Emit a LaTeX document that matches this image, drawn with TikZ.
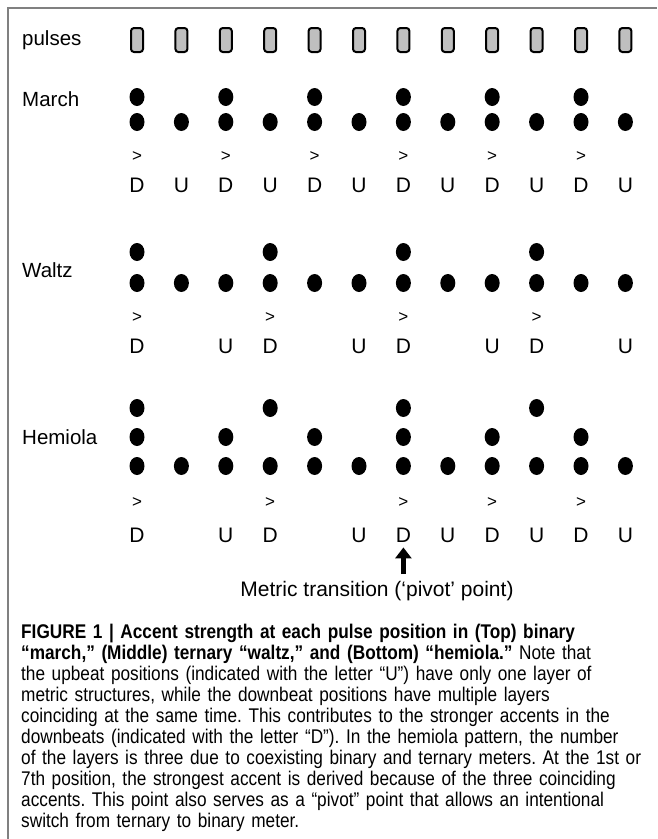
\documentclass[tikz,border=0pt]{standalone}
\usepackage{fontspec}
\setmainfont{Liberation Sans}
\newfontfamily\capfont[FakeStretch=0.87]{Liberation Sans}
\usetikzlibrary{arrows.meta,positioning,shapes.geometric}
\tikzset{
  pulsebox/.style={draw=black, line width=2pt, fill=black!25, rounded corners=3pt,
    minimum width=12pt, minimum height=24pt, inner sep=0pt},
  beatdot/.style={ellipse, fill=black, minimum width=15pt, minimum height=18pt, inner sep=0pt},
  rowlabel/.style={anchor=west, inner sep=0pt, font=\fontsize{20.5}{24}\selectfont},
  %% accent sign and beat letters
  accmark/.style={inner sep=0pt, font=\fontsize{17}{20}\selectfont},
  beatletter/.style={inner sep=0pt, font=\fontsize{21}{24}\selectfont},
  pivotarrow/.style={line width=5pt, -{Triangle[width=16pt,length=11pt]}},
  captext/.style={anchor=north west, inner sep=0pt, align=left, text width=634pt,
    font=\capfont\fontsize{19.8}{21}\selectfont\frenchspacing},
}
\newcommand{\colx}[1]{137+44.4*(#1-1)}

\begin{document}
\begin{tikzpicture}[x=1pt, y=-1pt]
\useasboundingbox (0,0) rectangle (657,839);
\draw[black!50, line width=1.2pt] (8,839) -- (8,8) -- (657,8);

%% pulses
\node[rowlabel] (lPulse) at (22,40) {pulses};
\foreach \i in {1,...,12}
  \node[pulsebox] (p\i) at ({\colx{\i}},40) {};

%% March
\node[rowlabel] (lMarch) at (22,99) {March};
\foreach \i in {1,3,...,11}
  \node[beatdot] (mA\i) at ({\colx{\i}},97) {};
\foreach \i in {1,...,12}
  \node[beatdot] (mB\i) at ({\colx{\i}},122) {};
\foreach \i in {1,3,...,11}
  \node[accmark] (mAcc\i) at ({\colx{\i}},157) {>};
\foreach \i/\l in {1/D,2/U,3/D,4/U,5/D,6/U,7/D,8/U,9/D,10/U,11/D,12/U}
  \node[beatletter] (mL\i) at ({\colx{\i}},185) {\l};

%% Waltz
\node[rowlabel] (lWaltz) at (22,270) {Waltz};
\foreach \i in {1,4,7,10}
  \node[beatdot] (wA\i) at ({\colx{\i}},252) {};
\foreach \i in {1,...,12}
  \node[beatdot] (wB\i) at ({\colx{\i}},283) {};
\foreach \i in {1,4,7,10}
  \node[accmark] (wAcc\i) at ({\colx{\i}},318) {>};
\foreach \i/\l in {1/D,3/U,4/D,6/U,7/D,9/U,10/D,12/U}
  \node[beatletter] (wL\i) at ({\colx{\i}},346) {\l};

%% Hemiola
\node[rowlabel] (lHemiola) at (22,437) {Hemiola};
\foreach \i in {1,4,7,10}
  \node[beatdot] (hA\i) at ({\colx{\i}},408) {};
\foreach \i in {1,3,...,11}
  \node[beatdot] (hB\i) at ({\colx{\i}},437) {};
\foreach \i in {1,...,12}
  \node[beatdot] (hC\i) at ({\colx{\i}},466) {};
\foreach \i in {1,4,7,9,11}
  \node[accmark] (hAcc\i) at ({\colx{\i}},503) {>};
\foreach \i/\l in {1/D,3/U,4/D,6/U,7/D,8/U,9/D,10/U,11/D,12/U}
  \node[beatletter] (hL\i) at ({\colx{\i}},535) {\l};

%% pivot point
\node[beatletter] (pivot) at (377,591) {Metric transition (‘pivot’ point)};
\coordinate (pvFoot) at ({\colx{7}},574);
\draw[pivotarrow] (pvFoot) -- ([yshift=-5pt]hL7.south);

\node[captext] (caption) at (21,624) {%
{\bfseries FIGURE 1 | Accent strength at each pulse position in (Top) binary}\\
{\bfseries “march,” (Middle) ternary “waltz,” and (Bottom) “hemiola.”} Note that\\
the upbeat positions (indicated with the letter “U”) have only one layer of\\
metric structures, while the downbeat positions have multiple layers\\
coinciding at the same time. This contributes to the stronger accents in the\\
downbeats (indicated with the letter “D”). In the hemiola pattern, the number\\
of the layers is three due to coexisting binary and ternary meters. At the 1st or\\
7th position, the strongest accent is derived because of the three coinciding\\
accents. This point also serves as a “pivot” point that allows an intentional\\
switch from ternary to binary meter.};
\end{tikzpicture}
\end{document}
